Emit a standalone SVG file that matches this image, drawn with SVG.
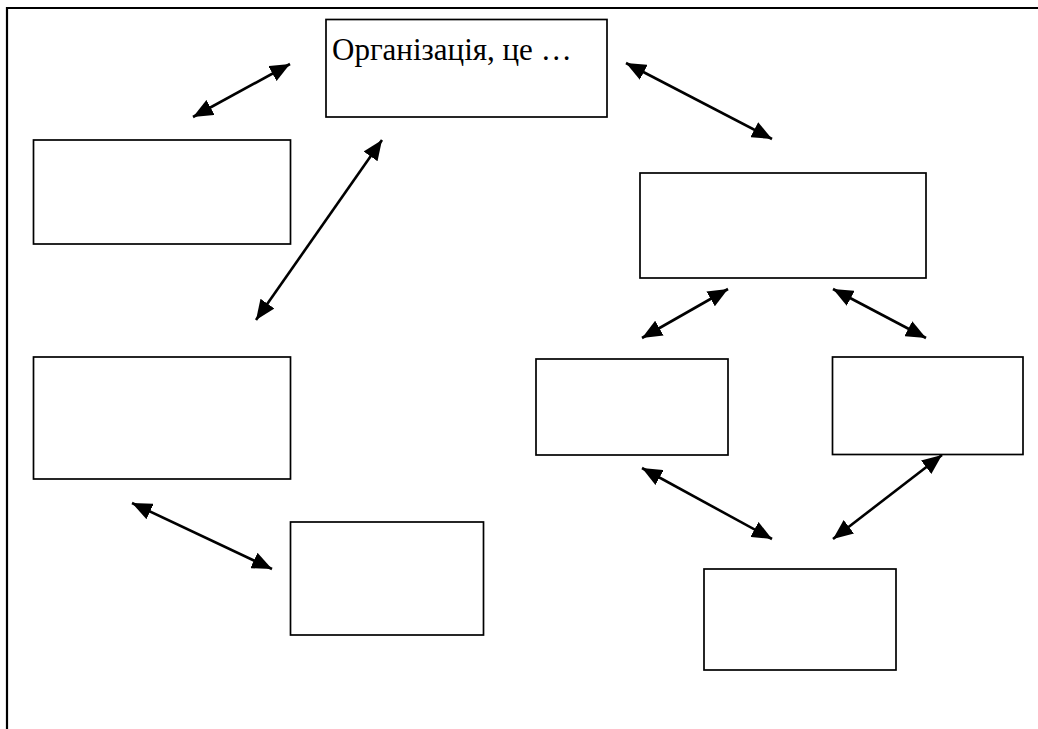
<svg xmlns="http://www.w3.org/2000/svg" width="1038" height="729" viewBox="0 0 1038 729">
<style>
.box{fill:#fff;stroke:#000;stroke-width:1.7}
.frame{stroke:#000;stroke-width:2.2;fill:none}
.conn{stroke:#000;stroke-width:2.6;fill:none;marker-start:url(#ah);marker-end:url(#ah)}
.lbl{font-family:"Liberation Serif","Times New Roman",serif;font-size:31px;fill:#000}
</style>
<defs>
<marker id="ah" markerUnits="userSpaceOnUse" markerWidth="21" markerHeight="17" refX="20" refY="8.5" orient="auto-start-reverse" viewBox="0 0 21 17">
<path d="M0,0 L20,8.5 L0,17 z" fill="#000"/>
</marker>
</defs>
<rect width="1038" height="729" fill="#fff"/>
<g id="frame">
<path class="frame" d="M7,729 V8 H1038"/>
</g>
<g id="node-org">
<rect class="box" x="326" y="19.5" width="281" height="97.5"/>
<text class="lbl" x="332" y="60">Організація, це …</text>
</g>
<g id="node-left1"><rect class="box" x="33.5" y="140" width="257" height="104"/></g>
<g id="node-left2"><rect class="box" x="33.5" y="357" width="257" height="122"/></g>
<g id="node-left3"><rect class="box" x="290.5" y="522" width="193" height="113"/></g>
<g id="node-right-top"><rect class="box" x="640" y="173" width="286" height="105"/></g>
<g id="node-right-mid1"><rect class="box" x="536" y="359" width="192" height="96"/></g>
<g id="node-right-mid2"><rect class="box" x="832.5" y="357" width="190.5" height="97.5"/></g>
<g id="node-right-bottom"><rect class="box" x="704" y="569" width="192" height="101"/></g>
<g id="connectors">
<line class="conn" x1="193" y1="117" x2="290" y2="64"/>
<line class="conn" x1="256" y1="320" x2="382" y2="140"/>
<line class="conn" x1="626" y1="63" x2="772" y2="139"/>
<line class="conn" x1="642" y1="338" x2="728" y2="289"/>
<line class="conn" x1="833" y1="289" x2="926" y2="338"/>
<line class="conn" x1="642" y1="468" x2="772" y2="539"/>
<line class="conn" x1="833" y1="539" x2="942" y2="455"/>
<line class="conn" x1="132" y1="503" x2="272" y2="569"/>
</g>
</svg>
